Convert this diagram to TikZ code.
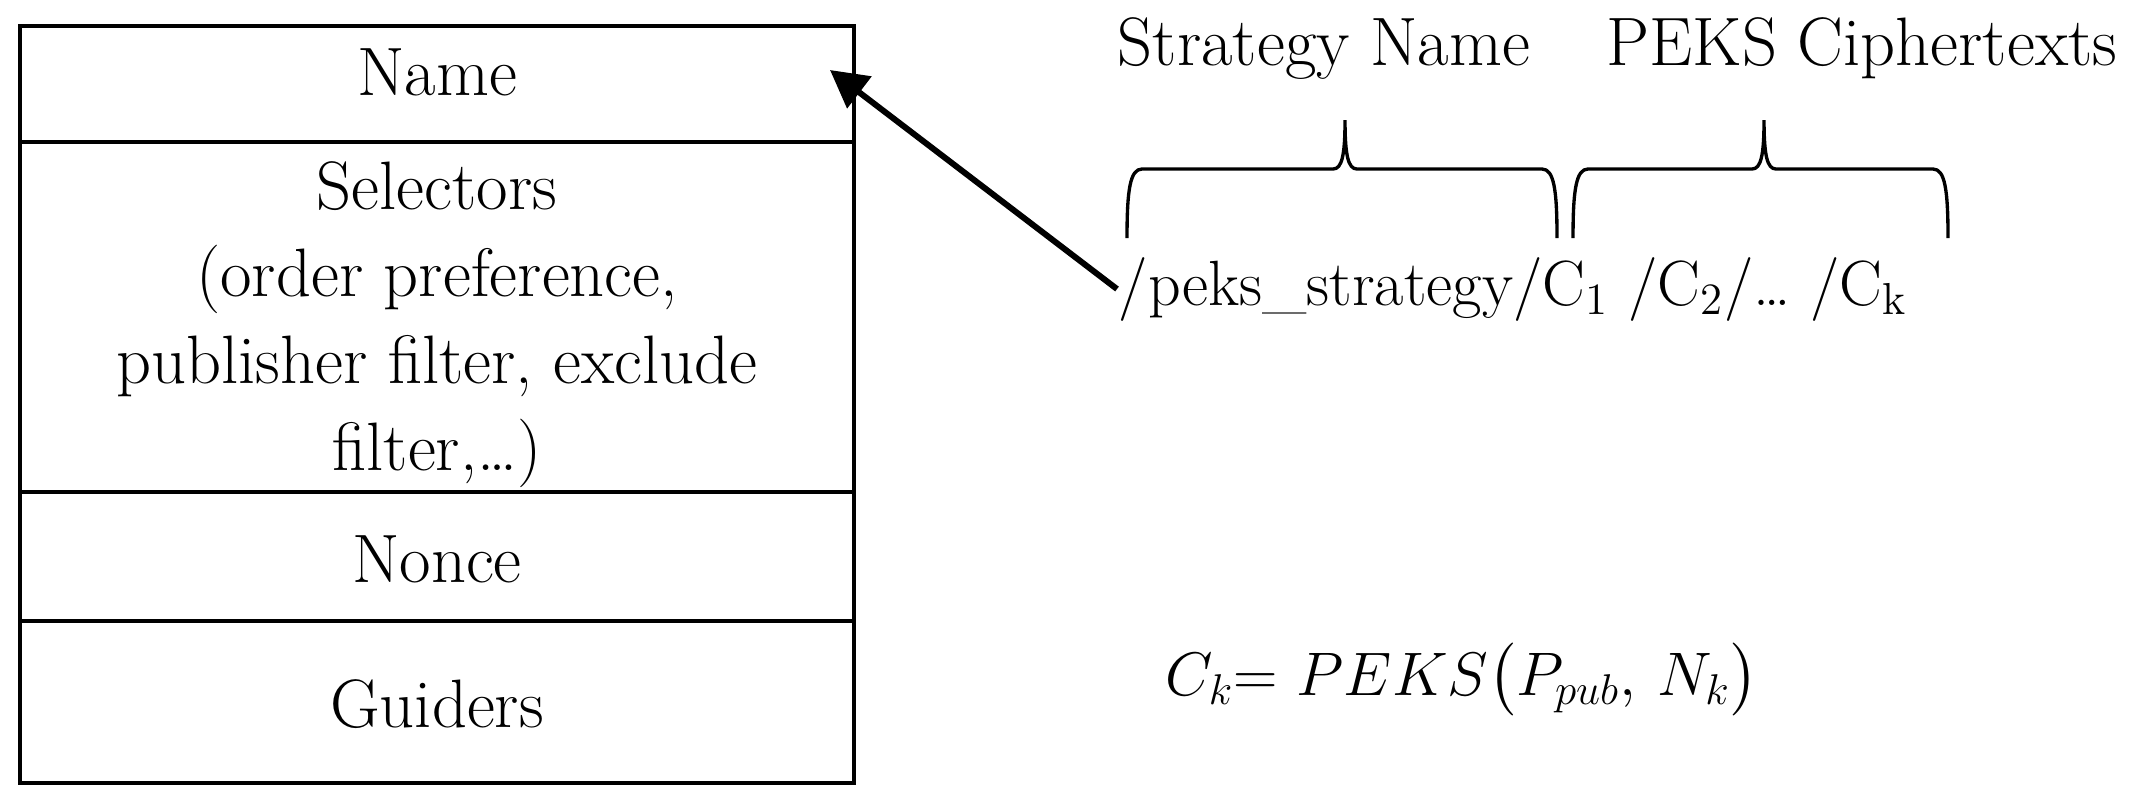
\RequirePackage{fix-cm}
\documentclass[tikz,border=0pt]{standalone}
\usepackage{amsmath}
\usetikzlibrary{arrows.meta}
\tikzset{
  label/.style={font=\fontsize{19.5}{24.7}\selectfont, anchor=base, inner sep=0pt},
}
\begin{document}
\begin{tikzpicture}[line width=0.95pt]

	% frame
	\useasboundingbox (0,0) rectangle (21.46,-8.04);

	% packet
	\draw (0.20,-0.26) rectangle (8.54,-7.83);
	\draw (0.20,-1.42) -- (8.54,-1.42);
	\draw (0.20,-4.92) -- (8.54,-4.92);
	\draw (0.20,-6.21) -- (8.54,-6.21);

	% fields
	\node [label] (name) at (4.37,-0.95) {Name};
	\node [label, align=center] (selectors) at (4.37,-4.70) {Selectors\\(order preference,\\publisher filter, exclude\\filter,\dots)};
	\node [label] (nonce) at (4.37,-5.82) {Nonce};
	\node [label] (guiders) at (4.37,-7.27) {Guiders};

	% name string
	\node [label, anchor=base west, font=\fontsize{18.2}{22}\selectfont] (path) at (11.17,-3.05) {/peks\_strategy/C\textsubscript{1} /C\textsubscript{2}/\dots{} /C\textsubscript{k}};
	\node [label] (strategy) at (13.24,-0.65) {Strategy Name};
	\node [label] (cipher) at (18.62,-0.65) {PEKS Ciphertexts};

	% braces
	\foreach \xa/\xm/\xb in {11.27/13.45/15.57, 15.73/17.64/19.48}
		\draw (\xa,-2.38) .. controls (\xa,-1.90) and ({\xa+0.03},-1.69) .. ({\xa+0.15},-1.69)
			-- ({\xm-0.12},-1.69) .. controls ({\xm-0.03},-1.69) and (\xm,-1.55) .. (\xm,-1.20)
			.. controls (\xm,-1.55) and ({\xm+0.03},-1.69) .. ({\xm+0.12},-1.69)
			-- ({\xb-0.15},-1.69) .. controls ({\xb-0.03},-1.69) and (\xb,-1.90) .. (\xb,-2.38);

	% arrow
	\coordinate (nametip) at (8.30,-0.70);
	\draw [-{Triangle[length=0.37cm,width=0.39cm]}, line width=1.7pt] (path.west) -- (nametip);

	% formula
	\node [label, anchor=base west, font=\fontsize{17.5}{22}\selectfont] (formula) at (11.64,-6.95) {$C_k$= $PEKS\bigl(P_{pub},\,N_k\bigr)$};

\end{tikzpicture}
\end{document}
